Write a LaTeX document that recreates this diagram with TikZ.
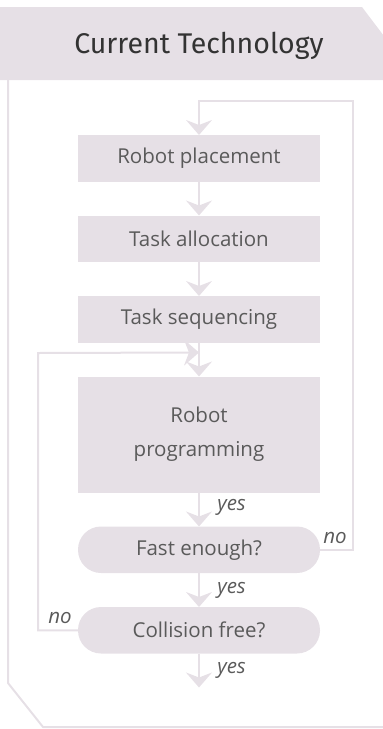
\documentclass[tikz,border=0pt]{standalone}
\usepackage{fontspec}
\setmainfont{Open Sans}
\newfontfamily\headfont{Fira Sans}
\definecolor{lilac}{HTML}{E6E0E6}
\definecolor{inkgray}{HTML}{5A5A5A}
\usetikzlibrary{arrows.meta, positioning, calc}
\tikzset{
    stage/.style={fill=lilac, minimum width=242pt, minimum height=46.5pt, inner sep=0pt, outer sep=0pt, text=inkgray, font=\fontsize{20.5}{34}\selectfont, align=center},
    tall/.style={minimum height=116pt},
    check/.style={stage, rounded corners=23pt},
    flow/.style={draw=lilac, line width=2pt, -{Stealth[length=15pt, width=26pt, inset=5pt]}},
    answer/.style={text=inkgray, font=\fontsize{20.5}{24}\selectfont\itshape},
    panel/.style={fill=lilac},
    frame/.style={draw=lilac, line width=2pt},
    title/.style={text=black!80, font=\headfont\fontsize{28.5}{34}\selectfont} }

\begin{document}
\begin{tikzpicture}[x=1pt, y=-1pt, node distance=34pt]
			\useasboundingbox (0,0) rectangle (383,729);
			% panel: header band and outline
			\fill[panel] (-5,7) -- (362,7) -- (390,44) -- (390,80) -- (-5,80) -- cycle;
			\draw[frame] (8,80) -- (8,683) -- (43,727) -- (390,727);
			\node[title] (head) at (199,46) {Current Technology};
			% ----
			\node[stage] (RP) at (199,158.25) {Robot placement};
			\node[stage, below = of RP] (TA) {Task allocation};
			\node[stage, below = of TA] (TS) {Task sequencing};
			\node[stage, tall, below = of TS] (RPg) {Robot\\programming};
			\node[check, below = of RPg] (FE) {Fast enough?};
			\node[check, below = of FE] (CF) {Collision free?};
			\coordinate[below = of CF.south] (done);
			\coordinate (backtop) at (353,101);
			\coordinate (backleft) at (38,353);
			\coordinate (join) at ($(TS.south)+(0,10)$);
			% ----
			\draw[flow] (RP) -- (TA);
			\draw[flow] (TA) -- (TS);
			\draw[flow] (TS) -- (RPg);
			\draw[flow] (RPg) -- node[answer, right=14pt, yshift=2pt] {yes} (FE);
			\draw[flow] (FE) -- node[answer, right=14pt] {yes} (CF);
			\draw[flow] (CF) -- node[answer, right=14pt] {yes} (done);

			\draw[flow] (FE.east) node[answer, anchor=south west, yshift=2pt, xshift=-1pt] {no} -| (backtop) -| (RP.north);
			\draw[flow] (CF.west) node[answer, anchor=south east, yshift=2pt, xshift=-2pt] {no} -| (backleft) -- (join);
		\end{tikzpicture}
\end{document}
